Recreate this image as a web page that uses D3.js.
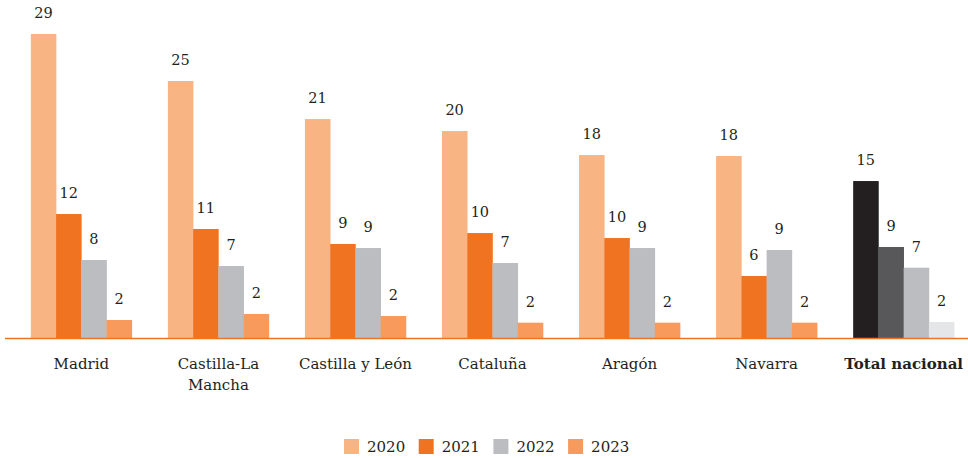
<!DOCTYPE html>
<html lang="es">
<head>
<meta charset="utf-8">
<style>
  body { margin: 0; background: #fff; }
  svg { font-family: 'DejaVu Serif', serif; }
  .val { font-size: 14.5px; fill: #231f20; text-anchor: middle; }
  .cat { font-size: 15px; fill: #231f20; text-anchor: middle; }
  .leg { font-size: 15px; fill: #231f20; }
</style>
</head>
<body>
<svg width="968" height="458"></svg>
<script src="https://cdn.jsdelivr.net/npm/d3@7"></script>
<script>
// data (labels show rounded values)
const categories = ["Madrid", "Castilla-La Mancha", "Castilla y León", "Cataluña", "Aragón", "Navarra", "Total nacional"];
const years = ["2020", "2021", "2022", "2023"];
const v2020 = [29.28, 24.76, 21.10, 19.95, 17.64, 17.55, 15.14];
const v2021 = [11.97, 10.53, 9.09, 10.14, 9.66, 6.01, 8.80];
const v2022 = [7.55, 6.97, 8.70, 7.26, 8.70, 8.51, 6.81];
const v2023 = [1.78, 2.36, 2.16, 1.52, 1.52, 1.52, 1.59];

const colors = ["#f9b483", "#f07322", "#bcbdc1", "#f79a5c"];
const totalColors = ["#231f20", "#58585a", "#bcbdc1", "#e5e6e8"];

const series = [v2020, v2021, v2022, v2023];
const rows = categories.map((c, i) => ({
  cat: c,
  vals: years.map((y, j) => ({ year: y, j: j, v: series[j][i], total: c === "Total nacional" }))
}));

const svg = d3.select("svg");
const base = 338.5;

const x0 = d3.scaleBand().domain(categories).range([13, 972])
  .paddingInner(0.263).paddingOuter(0.13);
const x1 = d3.scaleBand().domain(years).range([0, x0.bandwidth()]);
const y = d3.scaleLinear().domain([0, 30]).range([base, base - 312]);

const g = svg.selectAll("g.grp")
  .data(rows)
  .enter().append("g")
  .attr("class", "grp")
  .attr("transform", d => `translate(${x0(d.cat)},0)`);

g.selectAll("rect")
  .data(d => d.vals)
  .enter().append("rect")
  .attr("x", d => x1(d.year))
  .attr("width", x1.bandwidth() + 0.3)
  .attr("y", d => y(d.v))
  .attr("height", d => y(0) - y(d.v))
  .attr("fill", d => d.total ? totalColors[d.j] : colors[d.j]);

g.selectAll("text.val")
  .data(d => d.vals)
  .enter().append("text")
  .attr("class", "val")
  .attr("x", d => x1(d.year) + x1.bandwidth() / 2)
  .attr("y", d => y(d.v) - 16)
  .text(d => Math.round(d.v));

// baseline
svg.append("line")
  .attr("x1", 5).attr("x2", 968)
  .attr("y1", base).attr("y2", base)
  .attr("stroke", "#f07322")
  .attr("stroke-width", 1.5);

// category labels, wrapped to fit
const maxW = 125;
categories.forEach(c => {
  const cx = x0(c) + x0.bandwidth() / 2;
  const t = svg.append("text")
    .attr("class", "cat")
    .attr("x", cx)
    .attr("y", base + 30)
    .style("font-weight", c === "Total nacional" ? "bold" : null);
  let line = [];
  let ts = t.append("tspan").attr("x", cx).attr("dy", 0);
  c.split(" ").forEach(w => {
    line.push(w);
    ts.text(line.join(" "));
    if (ts.node().getComputedTextLength() > maxW && line.length > 1) {
      line.pop();
      ts.text(line.join(" "));
      line = [w];
      ts = t.append("tspan").attr("x", cx).attr("dy", 21).text(w);
    }
  });
});

// legend
const legX = 344, legStep = 74.7;
const leg = svg.selectAll("g.leg")
  .data(years)
  .enter().append("g")
  .attr("transform", (d, i) => `translate(${legX + i * legStep},439)`);
leg.append("rect").attr("width", 15).attr("height", 15).attr("fill", (d, i) => colors[i]);
leg.append("text").attr("class", "leg").attr("x", 23).attr("y", 13).text(d => d);
</script>
</body>
</html>
